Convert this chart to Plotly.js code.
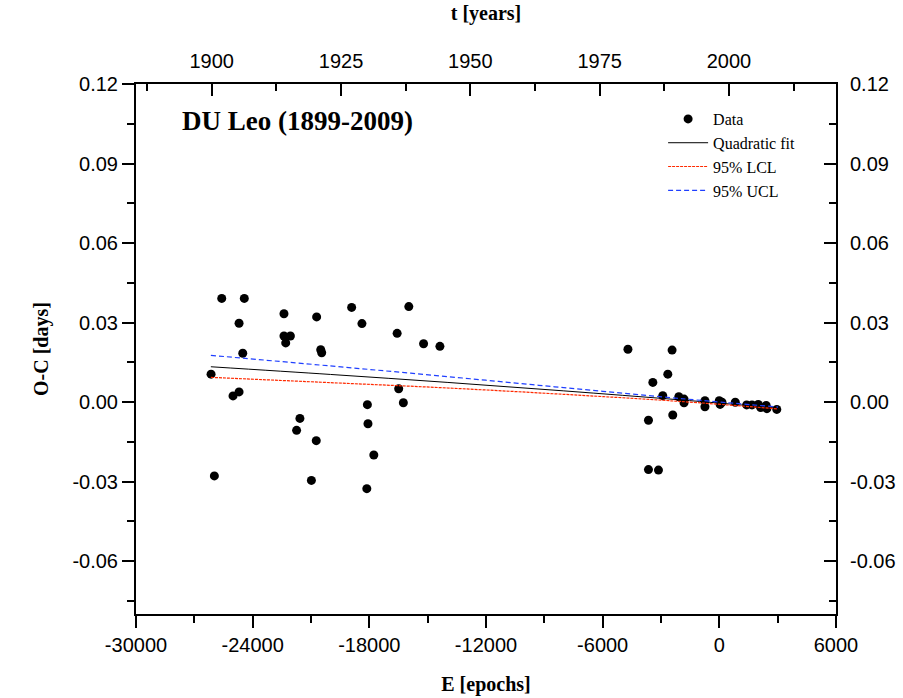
<!DOCTYPE html>
<html>
<head>
<meta charset="utf-8">
<script src="https://cdn.plot.ly/plotly-3.0.1.min.js"></script>
<style>
  html, body { margin: 0; padding: 0; background: #fff; }
  #chart { width: 903px; height: 698px; }
</style>
</head>
<body>
<div id="chart"></div>
<script>
// Observed O-C data
const epochs = [
  -25590, -24430, -24700, -22390, -20710, -18910, -15970, -18380, -16570, -15210,
  -14370, -22390, -22060, -22300, -20500, -20450, -24510, -26140, -24700, -25010,
  -16490, -16250, -18100, -21570, -21740, -18070, -20730, -17770, -25970, -20980,
  -18130,
  -4700, -2430, -2650, -3420, -2910, -2085, -1815, -1815, -740, -740,
  -3645, -2395, -3645, -3130, -5, 135, 40, 820, 1405, 1680,
  2000, 2125, 2410, 2445, 2955
];
const oc = [
  0.0391, 0.0391, 0.0297, 0.0333, 0.0321, 0.0357, 0.0360, 0.0296, 0.0259, 0.0220,
  0.0210, 0.0249, 0.0249, 0.0223, 0.0197, 0.0186, 0.0184, 0.0105, 0.0038, 0.0023,
  0.0050, -0.0003, -0.0010, -0.0062, -0.0107, -0.0082, -0.0146, -0.0200, -0.0279, -0.0296,
  -0.0327,
  0.0199, 0.0196, 0.0105, 0.0074, 0.0024, 0.0020, 0.0011, -0.0003, 0.0005, -0.0018,
  -0.0069, -0.0049, -0.0255, -0.0257, 0.0005, -0.0001, -0.0009, -0.0001, -0.0011, -0.0011,
  -0.0009, -0.0021, -0.0013, -0.0025, -0.0028
];

// Fit curves
const fitE   = [-26150, -20000, -14000, -8000, -2000, 3020];
const fitOC  = [0.0133, 0.0104, 0.0074, 0.0042, 0.0008, -0.0023];
const lclOC  = [0.0093, 0.0073, 0.0053, 0.0029, 0.0002, -0.0026];
const uclOC  = [0.0176, 0.0136, 0.0096, 0.0054, 0.0013, -0.0019];

// Axes ticks
const yTicks = [-0.06, -0.03, 0.00, 0.03, 0.06, 0.09, 0.12];
const yTickText = ['-0.06', '-0.03', '0.00', '0.03', '0.06', '0.09', '0.12'];
const xTicks = [-30000, -24000, -18000, -12000, -6000, 0, 6000];
const xTickText = ['-30000', '-24000', '-18000', '-12000', '-6000', '0', '6000'];
const yearTicks = [1900, 1925, 1950, 1975, 2000];
const yearTickText = ['1900', '1925', '1950', '1975', '2000'];

const serif = 'Liberation Serif, Times New Roman, serif';
const sans = 'Liberation Sans, Arial, sans-serif';

const traces = [
  {
    x: epochs, y: oc, type: 'scatter', mode: 'markers', name: 'Data',
    marker: { color: '#000', size: 9 }
  },
  {
    x: fitE, y: fitOC, type: 'scatter', mode: 'lines', name: 'Quadratic fit',
    line: { color: '#000', width: 1, shape: 'spline' }
  },
  {
    x: fitE, y: lclOC, type: 'scatter', mode: 'lines', name: '95% LCL',
    line: { color: '#ff2a00', width: 1.2, dash: '3px,1px', shape: 'spline' }
  },
  {
    x: fitE, y: uclOC, type: 'scatter', mode: 'lines', name: '95% UCL',
    line: { color: '#1f3fff', width: 1.2, dash: '5px,3px', shape: 'spline' }
  },
  // invisible helper so that the top (years) and right axes are drawn
  {
    x: yearTicks, y: yearTicks.map(() => yTicks[0]), xaxis: 'x2', yaxis: 'y2',
    type: 'scatter', mode: 'markers', marker: { opacity: 0, size: 1 },
    showlegend: false, hoverinfo: 'skip'
  }
];

const axLine = { showline: true, linecolor: '#000', linewidth: 2, showgrid: false, zeroline: false };

const layout = {
  width: 903, height: 698,
  margin: { l: 136, r: 67, t: 84, b: 84 },
  paper_bgcolor: '#fff', plot_bgcolor: '#fff',
  showlegend: true,
  legend: {
    x: 0.753, y: 0.966, xanchor: 'left', yanchor: 'top',
    bgcolor: 'rgba(0,0,0,0)', borderwidth: 0,
    font: { family: serif, size: 16, color: '#000' },
    itemwidth: 40, tracegroupgap: 0
  },
  xaxis: Object.assign({}, axLine, {
    range: [-30000, 6000], tickvals: xTicks, ticktext: xTickText, ticks: 'outside', ticklen: 12, tickwidth: 2, tickcolor: '#000',
    minor: { dtick: 3000, tick0: 0, ticks: 'outside', ticklen: 7, tickwidth: 2, tickcolor: '#000' },
    tickfont: { family: sans, size: 20, color: '#000' },
    title: { text: '<b>E [epochs]</b>', font: { family: serif, size: 20, color: '#000' }, standoff: 22 }
  }),
  xaxis2: Object.assign({}, axLine, {
    overlaying: 'x', side: 'top', anchor: 'y2',
    range: [1885.36, 2020.7], tickvals: yearTicks, ticktext: yearTickText, ticks: 'inside', ticklen: 12, tickwidth: 2, tickcolor: '#000',
    minor: { dtick: 12.5, tick0: 1900, ticks: 'inside', ticklen: 7, tickwidth: 2, tickcolor: '#000' },
    tickfont: { family: sans, size: 20, color: '#000' },
    ticklabelstandoff: 6,
    title: { text: '<b>t [years]</b>', font: { family: serif, size: 20, color: '#000' }, standoff: 24 }
  }),
  yaxis: Object.assign({}, axLine, {
    range: [-0.08, 0.12], tickvals: yTicks, ticktext: yTickText, ticks: 'outside', ticklen: 12, tickwidth: 2, tickcolor: '#000',
    minor: { dtick: 0.015, tick0: 0, ticks: 'outside', ticklen: 7, tickwidth: 2, tickcolor: '#000' },
    tickfont: { family: sans, size: 20, color: '#000' },
    title: { text: '<b>O-C [days]</b>', font: { family: serif, size: 20, color: '#000' }, standoff: 18 }
  }),
  yaxis2: Object.assign({}, axLine, {
    overlaying: 'y', side: 'right', anchor: 'x2',
    range: [-0.08, 0.12], tickvals: yTicks, ticktext: yTickText, ticks: 'inside', ticklen: 12, tickwidth: 2, tickcolor: '#000',
    minor: { dtick: 0.015, tick0: 0, ticks: 'inside', ticklen: 7, tickwidth: 2, tickcolor: '#000' },
    tickfont: { family: sans, size: 20, color: '#000' },
    ticklabelstandoff: 8
  }),
  annotations: [{
    xref: 'paper', yref: 'paper', x: 0.063, y: 0.93, xanchor: 'left', yanchor: 'middle',
    text: '<b>DU Leo (1899-2009)</b>', showarrow: false,
    font: { family: serif, size: 27, color: '#000' }
  }]
};

Plotly.newPlot('chart', traces, layout, { displayModeBar: false, staticPlot: true });
</script>
</body>
</html>
